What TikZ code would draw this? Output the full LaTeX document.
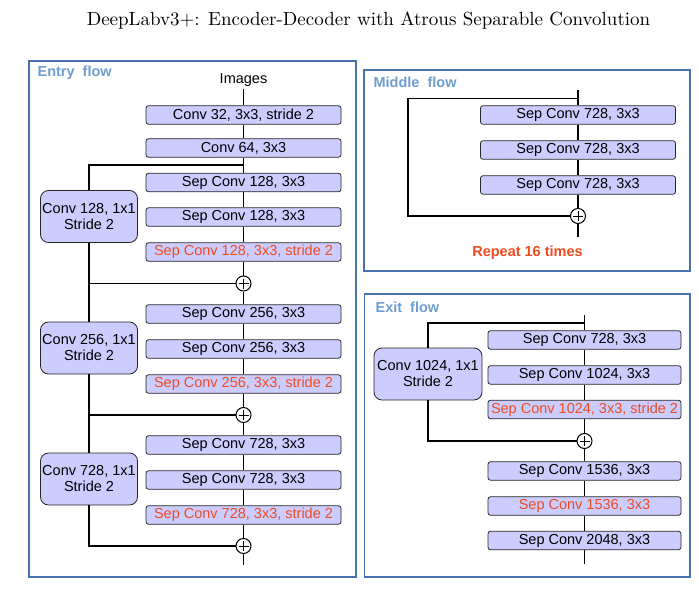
\documentclass[tikz,border=0pt]{standalone}
\usepackage{fontspec}
\setsansfont{Liberation Sans}
\usepackage{tikz}
\usetikzlibrary{positioning,calc}
\usepackage{xcolor}
\definecolor{boxfill}{RGB}{204,204,255}
\definecolor{framecol}{RGB}{72,112,170}
\definecolor{flowcol}{RGB}{112,157,207}
\definecolor{redtext}{RGB}{236,76,32}

\begin{document}
\begin{tikzpicture}[x=1pt,y=-1pt,
  line width=1.2pt,
  blk/.style={rectangle,rounded corners=2.5pt,draw=black!85,line width=0.8pt,
              fill=boxfill,minimum width=195pt,minimum height=18.5pt,
              inner sep=0pt,font=\sffamily\fontsize{14.5}{16}\selectfont},
  redblk/.style={blk,text=redtext},
  side/.style={blk,rounded corners=8pt,minimum width=97pt,minimum height=52pt,
               align=center,inner sep=1pt},
  plus/.style={circle,draw,line width=1pt,minimum size=15pt,inner sep=0pt,
               path picture={\draw[line width=1pt]
                 ($(path picture bounding box.center)+(-5pt,0)$) --
                 ($(path picture bounding box.center)+(5pt,0)$)
                 ($(path picture bounding box.center)+(0,-5pt)$) --
                 ($(path picture bounding box.center)+(0,5pt)$);}},
  frame/.style={draw=framecol,line width=1.1pt},
  flowlbl/.style={anchor=west,text=flowcol,inner sep=0pt,
                  font=\sffamily\bfseries\fontsize{14.5}{16}\selectfont},
]
\useasboundingbox (0,0) rectangle (699,591);

% Title
\node[transform shape,scale=1.9] (title) at (368.5,21) {\fontsize{10}{12}\selectfont DeepLabv3+: Encoder-Decoder with Atrous Separable Convolution};

% Frames
\draw[frame] (29,61) rectangle (356,577);
\draw[frame] (364,70) rectangle (690,271);
\draw[frame] (364.5,294) rectangle (690,577);
\node[flowlbl] (entrylbl) at (37,73) {Entry\ \ flow};
\node[flowlbl] (midlbl) at (373,82) {Middle\ \ flow};
\node[flowlbl] (exitlbl) at (375,307) {Exit\ \ flow};

% Entry flow
\node[font=\sffamily\fontsize{14.5}{16}\selectfont,inner sep=1pt] (img) at (243.5,80.5) {Images};
\node[blk]    (c32)  at (243.5,115) {Conv 32, 3x3, stride 2};
\node[blk]    (c64)  at (243.5,148) {Conv 64, 3x3};
\coordinate   (br1)  at (243.5,165);
\node[blk]    (a1)   at (243.5,182.5) {Sep Conv 128, 3x3};
\node[blk]    (a2)   at (243.5,217) {Sep Conv 128, 3x3};
\node[redblk] (a3)   at (243.5,252) {Sep Conv 128, 3x3, stride 2};
\node[plus]   (p1)   at (243.5,283.5) {};
\node[blk]    (b1)   at (243.5,314) {Sep Conv 256, 3x3};
\node[blk]    (b2)   at (243.5,349) {Sep Conv 256, 3x3};
\node[redblk] (b3)   at (243.5,384) {Sep Conv 256, 3x3, stride 2};
\node[plus]   (p2)   at (243.5,415) {};
\node[blk]    (d1)   at (243.5,445) {Sep Conv 728, 3x3};
\node[blk]    (d2)   at (243.5,480) {Sep Conv 728, 3x3};
\node[redblk] (d3)   at (243.5,515) {Sep Conv 728, 3x3, stride 2};
\node[plus]   (p3)   at (243.5,546) {};
\coordinate   (eend) at (243.5,565);

\node[side] (s128) at (89,216.5) {Conv 128, 1x1\\Stride 2};
\node[side] (s256) at (89,348) {Conv 256, 1x1\\Stride 2};
\node[side] (s728) at (89,479) {Conv 728, 1x1\\Stride 2};

\draw (img) -- (c32) -- (c64) -- (a1) -- (a2) -- (a3) -- (p1) -- (b1) -- (b2)
      -- (b3) -- (p2) -- (d1) -- (d2) -- (d3) -- (p3) -- (eend);
\draw (br1) -| (s128);
\draw (s128) |- (p1);
\draw (s256) |- (p1);
\draw (s256) |- (p2);
\draw (s728) |- (p2);
\draw (s728) |- (p3);

% Middle flow
\coordinate (mtop) at (578,90.5);
\coordinate (mbr)  at (578,98.5);
\node[blk] (m1) at (578,115) {Sep Conv 728, 3x3};
\node[blk] (m2) at (578,150) {Sep Conv 728, 3x3};
\node[blk] (m3) at (578,185) {Sep Conv 728, 3x3};
\node[plus] (mp) at (578,216) {};
\coordinate (mend) at (578,237);
\coordinate (ml1) at (408,98.5);
\coordinate (ml2) at (408,216);
\draw (mtop) -- (m1) -- (m2) -- (m3) -- (mp) -- (mend);
\draw (mbr) -- (ml1) -- (ml2) -- (mp);
\node[text=redtext,font=\sffamily\bfseries\fontsize{14.5}{16}\selectfont]
  (rep) at (527.5,252.5) {Repeat 16 times};

% Exit flow
\coordinate (xtop) at (584.5,315);
\coordinate (xbr)  at (584.5,323);
\node[blk,minimum width=193pt]    (x1) at (584.5,340) {Sep Conv 728, 3x3};
\node[blk,minimum width=193pt]    (x2) at (584.5,375) {Sep Conv 1024, 3x3};
\node[redblk,minimum width=193pt] (x3) at (584.5,409.5) {Sep Conv 1024, 3x3, stride 2};
\node[plus] (xp) at (584.5,441) {};
\node[blk,minimum width=193pt]    (x4) at (584.5,471) {Sep Conv 1536, 3x3};
\node[redblk,minimum width=193pt] (x5) at (584.5,506) {Sep Conv 1536, 3x3};
\node[blk,minimum width=193pt]    (x6) at (584.5,540.5) {Sep Conv 2048, 3x3};
\coordinate (xend) at (584.5,564);
\node[side,minimum width=108pt] (s1024) at (428,374) {Conv 1024, 1x1\\Stride 2};
\draw (xtop) -- (x1) -- (x2) -- (x3) -- (xp) -- (x4) -- (x5) -- (x6) -- (xend);
\draw (xbr) -| (s1024);
\draw (s1024) |- (xp);
\end{tikzpicture}
\end{document}
